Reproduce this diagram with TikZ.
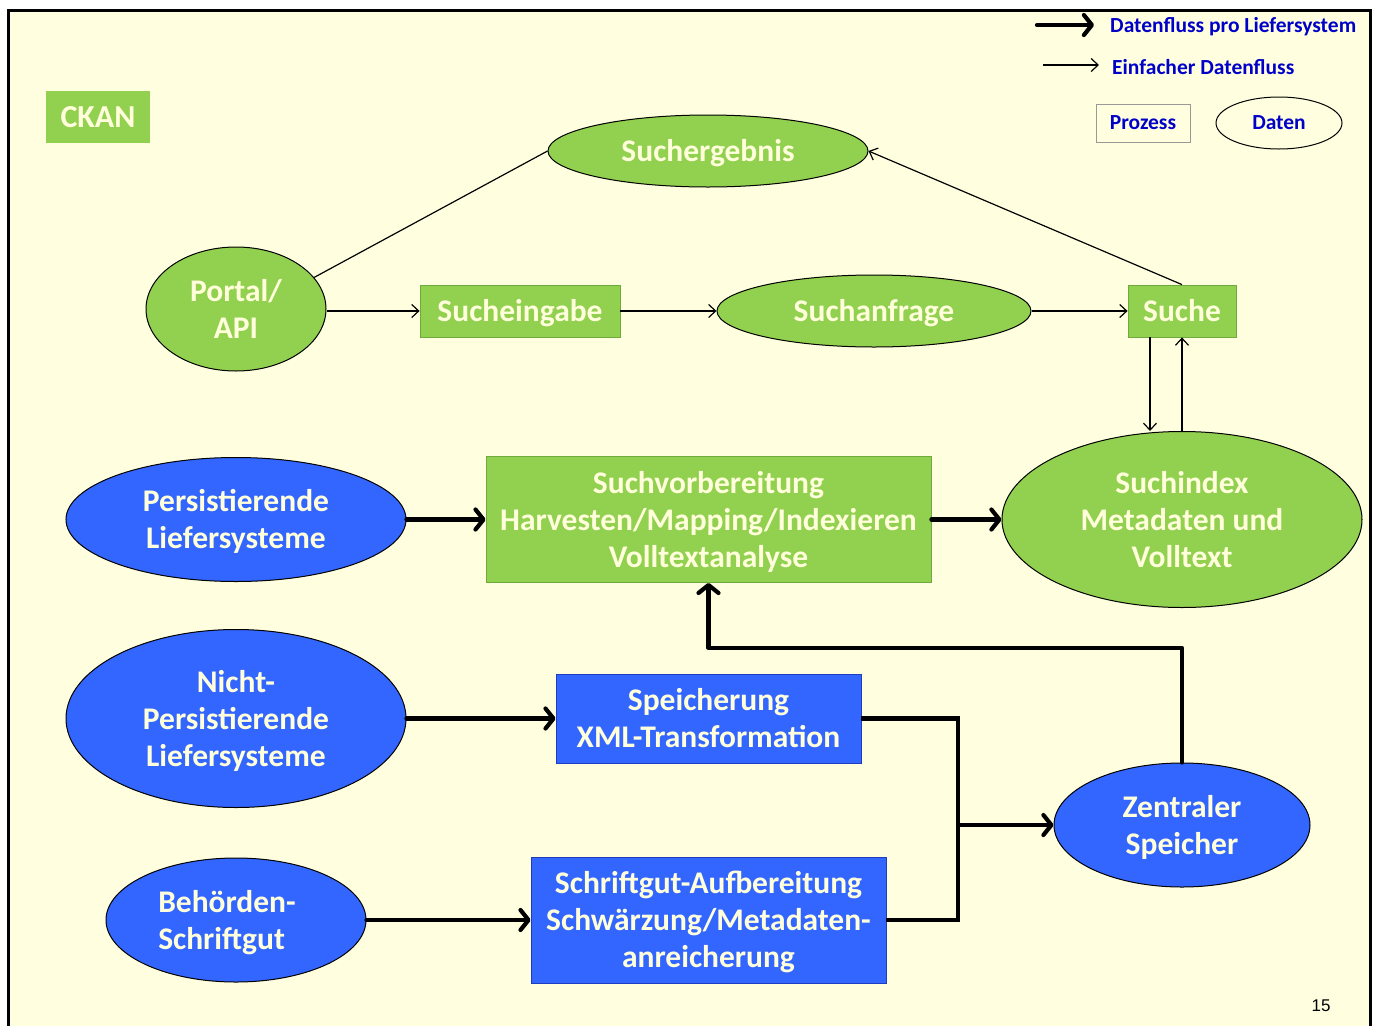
\documentclass[tikz,border=0pt]{standalone}
\usepackage{fontspec}
\setmainfont{Carlito}
\newfontfamily\arialf{Liberation Sans}
\usetikzlibrary{shapes.geometric,arrows.meta}
\definecolor{bgyel}{RGB}{255,255,224}
\definecolor{grn}{RGB}{146,208,80}
\definecolor{grnb}{RGB}{110,170,60}
\definecolor{blu}{RGB}{51,102,255}
\definecolor{blub}{RGB}{30,60,190}
\definecolor{cream}{RGB}{255,255,220}
\definecolor{legblue}{RGB}{0,0,200}
\newcommand\mlc[1]{\raisebox{-3.5pt}[\height][\depth]{\begin{tabular}{@{}c@{}}#1\end{tabular}}}
\newcommand\mll[1]{\raisebox{-3.5pt}[\height][\depth]{\begin{tabular}{@{}l@{}}#1\end{tabular}}}
\tikzset{
  big/.style={font=\bfseries\fontsize{31.5}{37}\selectfont, text=cream},
  gbox/.style={big, rectangle, fill=grn, draw=grnb, line width=0.8pt, inner sep=0pt},
  bbox/.style={big, rectangle, fill=blu, draw=blub, line width=0.8pt, inner sep=0pt},
  gell/.style={big, ellipse, fill=grn, draw=black, line width=1pt, inner sep=0pt},
  bell/.style={big, ellipse, fill=blu, draw=black, line width=1pt, inner sep=0pt},
  thin/.style={draw=black, line width=1.2pt, -{Straight Barb[length=7pt,width=13pt]}},
  thinline/.style={draw=black, line width=1.2pt},
  thick/.style={draw=black, line width=4.2pt, line cap=round, line join=round, -{Straight Barb[length=8pt,width=20pt,line cap=round,line join=round]}},
  thickline/.style={draw=black, line width=4.2pt, line join=miter},
  legfont/.style={font=\bfseries\fontsize{21.5}{24}\selectfont, text=legblue},
  legtext/.style={legfont, anchor=west, inner sep=0pt},
}
\begin{document}
\begin{tikzpicture}[x=1pt,y=-1pt]
\useasboundingbox (0,0) rectangle (1377,1026);
\fill[white] (0,0) rectangle (1377,1026);
\fill[bgyel] (8,10) rectangle (1370,1030);
\draw[black, line width=3pt] (8,1030) -- (8,10) -- (1370,10) -- (1370,1030);

% CKAN
\node[rectangle, fill=grn, minimum width=104pt, minimum height=52pt, inner sep=0pt,
      font=\bfseries\fontsize{32}{36}\selectfont, text=cream] (ckan) at (98,117) {CKAN};

% legend
\coordinate (l1a) at (1037,25); \coordinate (l1b) at (1094,25);
\draw[thick] (l1a) -- (l1b);
\node[legtext] (l1t) at (1110,27) {Datenfluss pro Liefersystem};
\coordinate (l2a) at (1043,65); \coordinate (l2b) at (1099,65);
\draw[thin] (l2a) -- (l2b);
\node[legtext] (l2t) at (1112,67.5) {Einfacher Datenfluss};
\node[rectangle, draw=gray!80, line width=0.7pt, minimum width=94pt, minimum height=38pt, inner sep=0pt,
      legfont] (lproz) at (1143,123) {Prozess};
\node[ellipse, draw=black, line width=1pt, minimum width=126pt, minimum height=52pt, inner sep=0pt,
      legfont] (ldaten) at (1279,123) {Daten};

% nodes
\node[gell, minimum width=320pt, minimum height=72pt] (se) at (708,151) {\mlc{Suchergebnis}};
\node[gell, minimum width=180pt, minimum height=124pt] (pa) at (236,309) {\mlc{Portal/\\API}};
\node[gbox, minimum width=200pt, minimum height=52pt] (sg) at (520,311) {\mlc{Sucheingabe}};
\node[gell, minimum width=314pt, minimum height=72pt] (sf) at (874,311) {\mlc{Suchanfrage}};
\node[gbox, minimum width=108pt, minimum height=52pt] (su) at (1182,311) {\mlc{Suche}};
\node[gell, minimum width=360pt, minimum height=176pt] (si) at (1182,519.5) {\mlc{Suchindex\\Metadaten und\\Volltext}};
\node[gbox, minimum width=445pt, minimum height=126pt] (sv) at (708.5,519.5) {\mlc{Suchvorbereitung\\Harvesten/Mapping/Indexieren\\Volltextanalyse}};
\node[bell, minimum width=340pt, minimum height=124pt] (ps) at (236,519.5) {\mlc{Persistierende\\Liefersysteme}};
\node[bell, minimum width=340pt, minimum height=178pt] (np) at (236,718.5) {\mlc{Nicht-\\Persistierende\\Liefersysteme}};
\node[bbox, minimum width=305pt, minimum height=89pt] (sp) at (708.5,718.5) {\mlc{Speicherung\\XML-Transformation}};
\node[bell, minimum width=256pt, minimum height=124pt] (zs) at (1182,825) {\mlc{Zentraler\\Speicher}};
\node[bell, minimum width=260pt, minimum height=124pt] (bs) at (236,920) {\mll{Behörden-\hspace*{18pt}\\Schriftgut}};
\node[bbox, minimum width=355pt, minimum height=126pt] (sa) at (708.5,920) {\mlc{Schriftgut-Aufbereitung\\Schwärzung/Metadaten-\\anreicherung}};

% thin connectors
\draw[thin] (sg.west -| pa.east) -- (sg.west);
\draw[thin] (sg.east) -- (sf.west);
\draw[thin] (sf.east) -- (su.west);
\draw[thin] (su.north) -- (se.east);
\draw[thinline] (pa.22) -- (se.west);
\draw[thin] ([xshift=-32pt]su.south) -- ([xshift=-32pt]su.south |- si.north);
\draw[thin] (si.north) -- (su.south);

% thick connectors
\draw[thick] (ps.east) -- (sv.west);
\draw[thick] (sv.east) -- (si.west);
\draw[thick] (np.east) -- (sp.west);
\draw[thick] (bs.east) -- (sa.west);
\coordinate (m1) at (958,718.5);
\coordinate (m2) at (958,920);
\coordinate (m3) at (958,825);
\draw[thickline] (sp.east) -- (m1) -- (m2) -- (sa.east);
\draw[thick] (m3) -- (zs.west);
\coordinate (j1) at (1182,648);
\coordinate (j2) at (708.5,648);
\draw[thick] (zs.north) -- (j1) -- (j2) -- (sv.south);

% page number
\node[font=\arialf\fontsize{17}{20}\selectfont, inner sep=0pt] (pg) at (1321,1006) {15};
\end{tikzpicture}
\end{document}
